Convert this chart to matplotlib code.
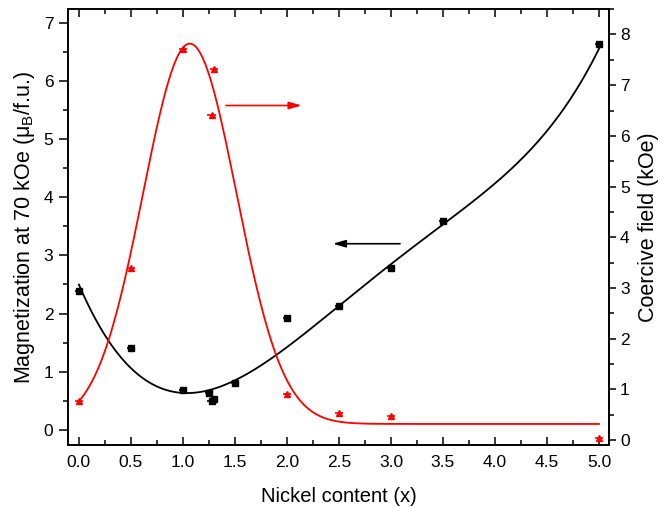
import matplotlib
matplotlib.use("Agg")
import matplotlib.pyplot as plt
import numpy as np
from matplotlib.ticker import MultipleLocator

plt.rcParams['font.family'] = ['Liberation Sans', 'DejaVu Sans']
plt.rcParams['mathtext.fontset'] = 'custom'
plt.rcParams['mathtext.rm'] = 'Liberation Sans'
plt.rcParams['mathtext.it'] = 'Liberation Sans'

# magnetization at 70 kOe (left axis)
mag_x = [0.0, 0.5, 1.0, 1.25, 1.276, 1.3, 1.5, 2.0, 2.5, 3.0, 3.5, 5.0]
mag_y = [2.39, 1.41, 0.68, 0.63, 0.49, 0.53, 0.81, 1.92, 2.13, 2.78, 3.59, 6.63]

# coercive field (right axis)
hc_x = [0.0, 0.5, 1.0, 1.276, 1.3, 2.0, 2.5, 3.0, 5.0]
hc_y = [0.77, 3.39, 7.72, 6.41, 7.31, 0.91, 0.53, 0.48, 0.04]

# guide line through magnetization
fit_x = [0.0, 0.266, 0.52, 0.78, 1.07, 1.42, 1.74, 2.0, 2.32, 2.5, 3.0, 3.18, 3.5, 4.05, 4.46, 4.75, 5.0]
fit_y = [2.49, 1.60, 1.03, 0.72, 0.63, 0.77, 1.09, 1.46, 1.89, 2.13, 2.78, 3.10, 3.58, 4.30, 5.07, 5.73, 6.56]

# gaussian fit of coercive field: y0, A, xc, w
gauss = (0.32, 7.50, 1.066, 0.449)

fig = plt.figure(figsize=(6.58, 5.08), dpi=100)
ax = fig.add_axes([0.1033, 0.124, 0.8222, 0.858])
ax2 = ax.twinx()

xs = np.linspace(0, 5, 400)
coef = np.polyfit(fit_x, fit_y, 6)
ax.plot(xs, np.polyval(coef, xs), color='black', lw=1.3, zorder=2)
ax.errorbar(mag_x, mag_y, xerr=0.04, fmt='s', ms=4.3, color='black',
            elinewidth=1.2, capsize=0, zorder=3)

y0, A, xc, w = gauss
ax2.plot(xs, y0 + A * np.exp(-(xs - xc) ** 2 / (2 * w ** 2)), color='red', lw=1.3)
ax2.errorbar(hc_x, hc_y, xerr=0.04, fmt='^', ms=4.8, color='red',
             elinewidth=1.2, capsize=0)

ax.annotate('', xy=(2.442, 3.20), xytext=(3.087, 3.20),
            arrowprops=dict(arrowstyle='-|>,head_length=0.75,head_width=0.22',
                            color='black', lw=1.2, shrinkA=0, shrinkB=0))
ax2.annotate('', xy=(2.141, 6.60), xytext=(1.413, 6.60),
             arrowprops=dict(arrowstyle='-|>,head_length=0.75,head_width=0.22',
                             color='red', lw=1.2, shrinkA=0, shrinkB=0))

ax.set_xlim(-0.105, 5.096)
ax.set_ylim(-0.258, 7.23)
ax2.set_ylim(-0.095, 8.50)

ax.xaxis.set_major_locator(MultipleLocator(0.5))
ax.xaxis.set_minor_locator(MultipleLocator(0.25))
ax.yaxis.set_major_locator(MultipleLocator(1))
ax.yaxis.set_minor_locator(MultipleLocator(0.5))
ax2.yaxis.set_major_locator(MultipleLocator(1))
ax2.yaxis.set_minor_locator(MultipleLocator(0.5))
ax.xaxis.set_major_formatter(lambda v, p: f'{v:.1f}')

ax.tick_params(axis='x', which='both', direction='in', top=True, bottom=True,
               labelsize=12.5, pad=7.5, width=1.1)
ax.tick_params(axis='x', which='major', length=6)
ax.tick_params(axis='x', which='minor', length=3.5)
ax.tick_params(axis='y', which='both', direction='out', right=False,
               labelsize=12.5, pad=4, width=1.1)
ax.tick_params(axis='y', which='major', length=6.5)
ax.tick_params(axis='y', which='minor', length=3.6)
ax2.tick_params(axis='y', which='both', direction='out', labelsize=12.5, pad=3, width=1.1)
ax2.tick_params(axis='y', which='major', length=5)
ax2.tick_params(axis='y', which='minor', length=3.5)

for a in (ax, ax2):
    for s in a.spines.values():
        s.set_linewidth(1.2)

ax.set_xlabel('Nickel content (x)', fontsize=14.5, labelpad=12)
ax.set_ylabel(r'Magnetization at 70 kOe ($\mathregular{\mu_B}$/f.u.)', fontsize=15.5, labelpad=5)
ax2.set_ylabel('Coercive field (kOe)', fontsize=15.5, labelpad=6)

fig.savefig('out.png', dpi=100)
